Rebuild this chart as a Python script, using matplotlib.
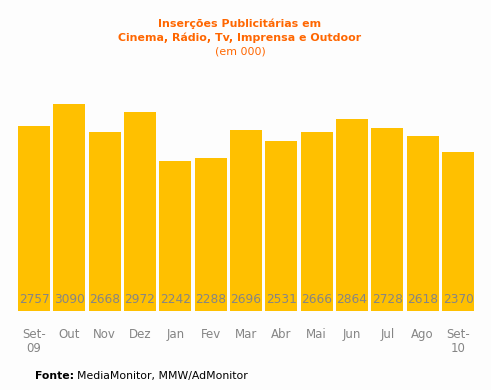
import matplotlib
matplotlib.use("Agg")
import matplotlib.pyplot as plt

categories = ["Set-\n09", "Out", "Nov", "Dez", "Jan", "Fev", "Mar", "Abr", "Mai", "Jun", "Jul", "Ago", "Set-\n10"]
values = [2757, 3090, 2668, 2972, 2242, 2288, 2696, 2531, 2666, 2864, 2728, 2618, 2370]

W, H = 491, 390
bg = "#fdfdfd"
fig = plt.figure(figsize=(W / 100, H / 100), dpi=100, facecolor=bg)
left, right = 16.3, 475.7
y0 = 311
ymax = 3500
scale = 0.067
top = y0 - ymax * scale
ax = fig.add_axes([left / W, 1 - y0 / H, (right - left) / W, (y0 - top) / H])
ax.set_facecolor(bg)
x = list(range(len(values)))
ax.bar(x, values, width=0.906, color="#ffc000", edgecolor="none")
ax.set_xlim(-0.5, len(values) - 0.5)
ax.set_ylim(0, ymax)
for xi, v in zip(x, values):
    ax.text(xi, 165, str(v), ha="center", va="center", fontsize=8.7, color="#858585")
ax.set_xticks(x)
ax.set_xticklabels(categories, fontsize=8.5, color="#858585", linespacing=1.15, va="top")
ax.tick_params(axis="x", length=0, pad=12)
ax.set_yticks([])
for s in ax.spines.values():
    s.set_visible(False)

orange = "#ff6600"
fs_t = 7.9
fig.text(240 / W, 1 - 24 / H, "Inserções Publicitárias em", ha="center", va="center",
         fontsize=fs_t, fontweight="bold", color=orange)
fig.text(240 / W, 1 - 38 / H, "Cinema, Rádio, Tv, Imprensa e Outdoor", ha="center", va="center",
         fontsize=fs_t, fontweight="bold", color=orange)
fig.text(240 / W, 1 - 51 / H, "(em 000)", ha="center", va="center",
         fontsize=fs_t, color=orange)

fig.text(35 / W, 1 - 376 / H, "Fonte:", ha="left", va="center", fontsize=7.8,
         fontweight="bold", color="black")
fig.text(77 / W, 1 - 376 / H, "MediaMonitor, MMW/AdMonitor", ha="left", va="center",
         fontsize=7.8, color="black")

fig.savefig("out.png", dpi=100, facecolor=bg)
